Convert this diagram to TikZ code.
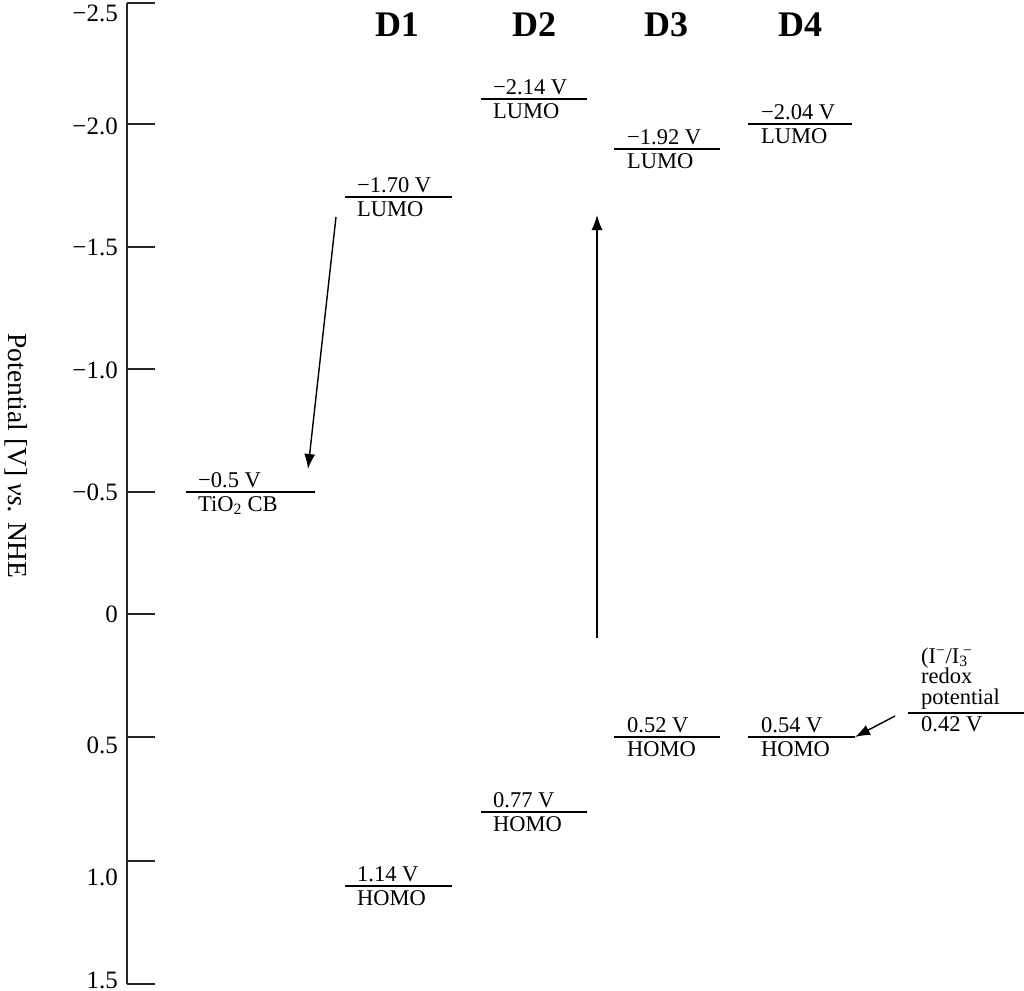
\documentclass[tikz,border=0pt]{standalone}
\usepackage{fontspec}
\setmainfont{Liberation Serif}
\usetikzlibrary{arrows.meta}
\tikzset{
  axisline/.style={line width=1.2pt, black!85},
  levelline/.style={line width=1.2pt},
  val/.style={anchor=base west, inner sep=0pt, font=\fontsize{22.5}{21}\selectfont},
  ticklab/.style={anchor=east, inner sep=0pt, font=\fontsize{25}{28}\selectfont},
  head/.style={inner sep=0pt, font=\fontsize{36}{40}\selectfont\bfseries},
  arr/.style={line width=1.4pt, -{Latex[length=15pt,width=11pt]}}
}
\begin{document}
\begin{tikzpicture}[x=1pt,y=-1pt]
\useasboundingbox (0,0) rectangle (1024,990);
% axis
\draw[axisline] (127,3) -- (127,984);
\foreach \yy/\lab/\ly in {3/{−2.5}/13, 124/{−2.0}/126, 247/{−1.5}/247, 369/{−1.0}/370, 492/{−0.5}/492, 614/0/614, 737/0.5/745, 861/1.0/877, 984/1.5/980}{
  \draw[axisline] (127,\yy) -- (155,\yy);
  \node[ticklab] at (118,\ly) {\lab};
}
\node[rotate=-90, inner sep=0pt, font=\fontsize{27.5}{30}\selectfont] (title) at (16,456) {Potential [V] \textit{vs.} NHE};
% headers
\node[head] (h1) at (397,25) {D1};
\node[head] (h2) at (534,25) {D2};
\node[head] (h3) at (666,25) {D3};
\node[head] (h4) at (800,25) {D4};
% TiO2
\draw[levelline] (186,492) coordinate (tioA) -- (315,492) coordinate (tioB);
\node[val] (tiov) at (198,487) {−0.5 V};
\node[val] (tiol) at (198,511) {TiO\textsubscript{2} CB};
% D1
\draw[levelline] (345,197) coordinate (d1LA) -- (452,197) coordinate (d1LB);
\node[val] (d1Lv) at (357,192) {−1.70 V};
\node[val] (d1Ll) at (357,216) {LUMO};
\draw[levelline] (345,886) coordinate (d1HA) -- (452,886) coordinate (d1HB);
\node[val] (d1Hv) at (357,881) {1.14 V};
\node[val] (d1Hl) at (357,905) {HOMO};
% D2
\draw[levelline] (481,99) coordinate (d2LA) -- (587,99) coordinate (d2LB);
\node[val] (d2Lv) at (493,94) {−2.14 V};
\node[val] (d2Ll) at (493,118) {LUMO};
\draw[levelline] (481,812) coordinate (d2HA) -- (587,812) coordinate (d2HB);
\node[val] (d2Hv) at (493,807) {0.77 V};
\node[val] (d2Hl) at (493,831) {HOMO};
% D3
\draw[levelline] (614,149) coordinate (d3LA) -- (720,149) coordinate (d3LB);
\node[val] (d3Lv) at (627,144) {−1.92 V};
\node[val] (d3Ll) at (627,168) {LUMO};
\draw[levelline] (614,737) coordinate (d3HA) -- (720,737) coordinate (d3HB);
\node[val] (d3Hv) at (627,732) {0.52 V};
\node[val] (d3Hl) at (627,756) {HOMO};
% D4
\draw[levelline] (748,124) coordinate (d4LA) -- (852,124) coordinate (d4LB);
\node[val] (d4Lv) at (761,119) {−2.04 V};
\node[val] (d4Ll) at (761,143) {LUMO};
\draw[levelline] (748,737) coordinate (d4HA) -- (855,737) coordinate (d4HB);
\node[val] (d4Hv) at (761,732) {0.54 V};
\node[val] (d4Hl) at (761,756) {HOMO};
% redox
\draw[levelline] (908,713) coordinate (rxA) -- (1024,713) coordinate (rxB);
\node[anchor=south west, inner sep=0pt, align=left, font=\fontsize{22.5}{20.5}\selectfont] (rx) at (921,709)
  {(I\textsuperscript{−}/I\textsubscript{3}\kern-0.2em\textsuperscript{−}\\redox\\potential};
\node[val] (rxv) at (921,731) {0.42 V};
% arrows
\coordinate (a1s) at (336,217);
\coordinate (a1e) at (308,469);
\draw[arr] (a1s) -- (a1e);
\coordinate (a2s) at (597,638);
\coordinate (a2e) at (597,215);
\draw[arr] (a2s) -- (a2e);
\coordinate (a3s) at (895,716);
\draw[arr] (a3s) -- (d4HB);
\end{tikzpicture}
\end{document}
